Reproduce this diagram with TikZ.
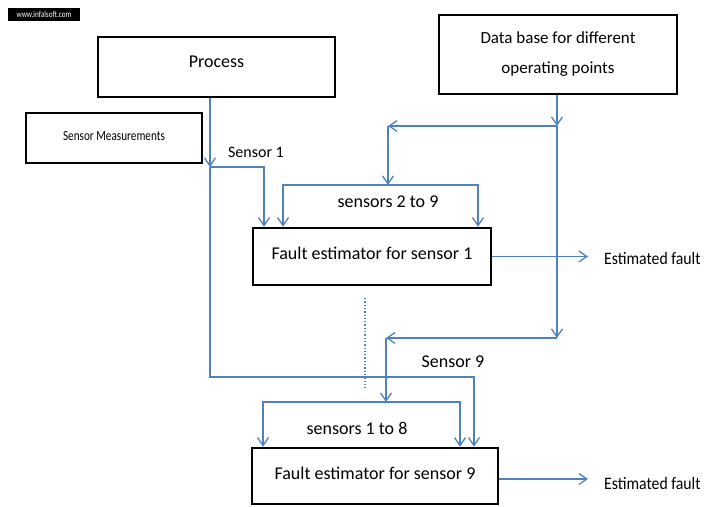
\documentclass[tikz,border=0pt]{standalone}
\usepackage{fontspec}
\setmainfont{Carlito}
\usetikzlibrary{arrows.meta,positioning,calc}

\definecolor{lineBlue}{RGB}{79,129,189}

\tikzset{
	blockBox/.style={
		draw,
		line width=2.6pt,
		inner sep=0pt,
		align=center,
		font=\fontsize{18}{20}\selectfont
	}
}

\tikzset{
	signalLine/.style={
		draw=lineBlue,
		line width=1.3pt
	}
}

\tikzset{
	signalArrow/.style={
		signalLine,
		-{Straight Barb[length=8pt,width=11pt,line width=1.3pt]}
	}
}

\tikzset{
	signalLabel/.style={
		inner sep=0pt,
		font=\fontsize{18}{20}\selectfont
	}
}

\begin{document}
\begin{tikzpicture}[x=1pt,y=-1pt]

\useasboundingbox (0,0) rectangle (709,506);

\node[fill=black,text=white,inner sep=0pt,minimum width=72pt,minimum height=13pt,font=\fontsize{9}{10}\selectfont](mark) at (44,14) {\scalebox{0.8}[1]{www.infalsoft.com}};

\node[blockBox,minimum width=237pt,minimum height=60pt,text depth=10pt](process) at (216.5,67) {Process};
\node[blockBox,minimum width=176pt,minimum height=50pt,text depth=4pt,font=\fontsize{14}{16}\selectfont](meas) at (114,138) {\scalebox{0.8}[1]{Sensor Measurements}};
\node[blockBox,minimum width=238pt,minimum height=79pt,font=\fontsize{17}{30}\selectfont](base) at (558,54.5) {Data base for different\\operating points};
\node[blockBox,minimum width=238pt,minimum height=57pt,text depth=7pt](est1) at (372,256.5) {Fault estimator for sensor 1};
\node[blockBox,minimum width=246pt,minimum height=56pt,text depth=6pt](est9) at (375,476) {Fault estimator for sensor 9};

% junctions
\coordinate (s1split) at (210,167);
\coordinate (s1corner) at (264,167);
\coordinate (s9corner) at (210,377);
\coordinate (s9turn) at (474,377);
\coordinate (dbsplit) at (557,126);
\coordinate (dbleft) at (388,126);
\coordinate (db1split) at (388,185);
\coordinate (db1left) at (283,185);
\coordinate (db1right) at (478,185);
\coordinate (dbdown) at (557,338);
\coordinate (db9left) at (386,338);
\coordinate (db9split) at (386,402);
\coordinate (db9left2) at (263,402);
\coordinate (db9right) at (460,402);
\coordinate (out1) at (588,256.5);
\coordinate (out9) at (588,479);
\coordinate (dotTop) at (365,298);
\coordinate (dotBot) at (365,388);

% labels
\node[signalLabel,font=\fontsize{16}{18}\selectfont](sensor1) at (256,152) {Sensor 1};
\node[signalLabel](group1) at (388,202) {sensors 2 to 9};
\node[signalLabel](sensor9) at (453,362) {Sensor 9};
\node[signalLabel](group9) at (357,428) {sensors 1 to 8};
\node[signalLabel,anchor=west,font=\fontsize{17.5}{19}\selectfont](fault1) at (604,258) {\scalebox{0.9}[1]{Estimated fault}};
\node[signalLabel,anchor=west,font=\fontsize{17.5}{19}\selectfont](fault9) at (604,483) {\scalebox{0.9}[1]{Estimated fault}};

% sensor signals
\draw[signalArrow] (process.south -| s1split) -- (s1split);
\draw[signalArrow] (s1split) -- (s1corner) -- (est1.north -| s1corner);
\draw[signalArrow] (s1split) -- (s9corner) -- (s9turn) -- (est9.north -| s9turn);

% data base signals
\draw[signalArrow] (base.south -| dbsplit) -- (dbsplit);
\draw[signalArrow] (dbsplit) -- (dbleft);
\draw[signalArrow] (dbleft) -- (db1split);
\draw[signalArrow] (db1split) -- (db1left) -- (est1.north -| db1left);
\draw[signalArrow] (db1split) -- (db1right) -- (est1.north -| db1right);
\draw[signalArrow] (dbsplit) -- (dbdown);
\draw[signalArrow] (dbdown) -- (db9left);
\draw[signalArrow] (db9left) -- (db9split);
\draw[signalArrow] (db9split) -- (db9left2) -- (est9.north -| db9left2);
\draw[signalArrow] (db9split) -- (db9right) -- (est9.north -| db9right);

% outputs
\draw[signalArrow] (est1.east) -- (out1);
\draw[signalArrow] (est9.east |- out9) -- (out9);

\draw[signalLine,dotted,line width=1.6pt] (dotTop) -- (dotBot);

\end{tikzpicture}
\end{document}
